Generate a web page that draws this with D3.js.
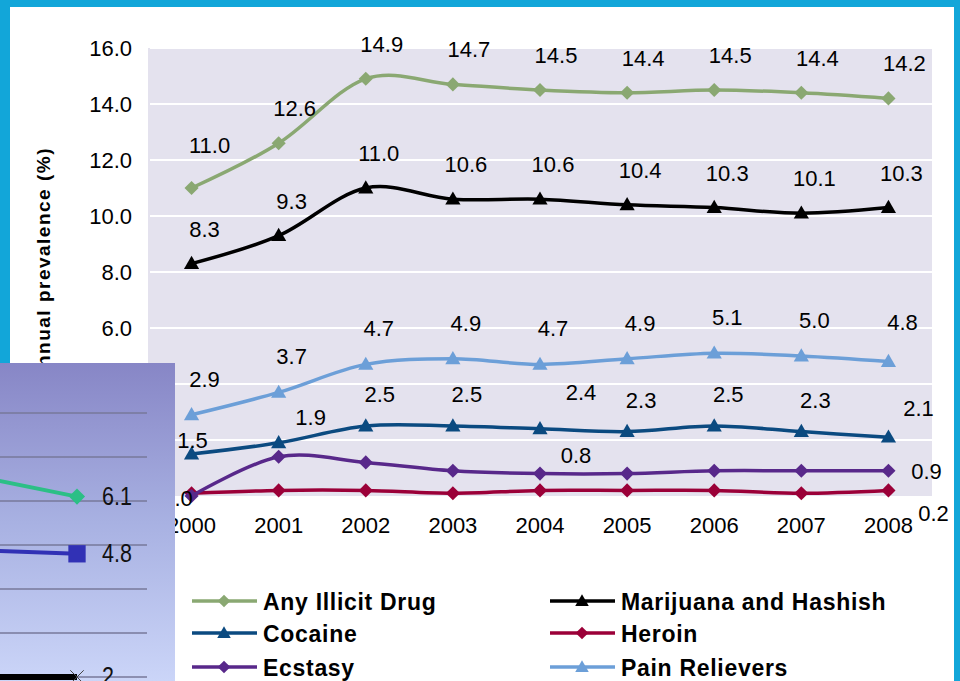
<!DOCTYPE html>
<html>
<head>
<meta charset="utf-8">
<script src="https://cdn.jsdelivr.net/npm/d3@7"></script>
<style>
  body { margin:0; background:#fff; }
  svg { display:block; font-family:"Liberation Sans", Arial, sans-serif; }
</style>
</head>
<body>
<svg id="chart" width="960" height="681"></svg>
<script>
// values
var years = ['2000','2001','2002','2003','2004','2005','2006','2007','2008'];
var anyIllicit    = [11.0, 12.6, 14.9, 14.7, 14.5, 14.4, 14.5, 14.4, 14.2];
var marijuana     = [8.3, 9.3, 11.0, 10.6, 10.6, 10.4, 10.3, 10.1, 10.3];
var painRelievers = [2.9, 3.7, 4.7, 4.9, 4.7, 4.9, 5.1, 5.0, 4.8];
var cocaine       = [1.5, 1.9, 2.5, 2.5, 2.4, 2.3, 2.5, 2.3, 2.1];
var ecstasy       = [0.0, 1.4, 1.2, 0.9, 0.8, 0.8, 0.9, 0.9, 0.9];
var heroin        = [0.1, 0.2, 0.2, 0.1, 0.2, 0.2, 0.2, 0.1, 0.2];
var yTicks = [0, 2, 4, 6, 8, 10, 12, 14, 16];

// the pasted picture in the bottom left corner (end of another chart)
var insetTicks = [2, 3, 4, 5, 6, 7, 8];
var insetGreen = [6.65, 6.1];
var insetBlue  = [4.9, 4.8];
var insetBlack = [2.0, 2.0];

var series = [
  {name:'Any Illicit Drug',      values:anyIllicit,    color:'#8aa872', marker:'diamond',  labels:[0,1,2,3,4,5,6,7,8], dx:16, dy:-35},
  {name:'Marijuana and Hashish', values:marijuana,     color:'#000000', marker:'triangle', labels:[0,1,2,3,4,5,6,7,8], dx:13, dy:-35},
  {name:'Cocaine',               values:cocaine,       color:'#0b4a80', marker:'triangle', labels:[0,1,2,3,4,5,6,7,8], dx:14, dy:-32},
  {name:'Heroin',                values:heroin,        color:'#9b0038', marker:'diamond',  labels:[8], dx:45, dy:23},
  {name:'Ecstasy',               values:ecstasy,       color:'#58288a', marker:'diamond',  labels:[0,4,8], dx:36, dy:-19},
  {name:'Pain Relievers',        values:painRelievers, color:'#6c9fd8', marker:'triangle', labels:[0,1,2,3,4,5,6,7,8], dx:13, dy:-36}
];

// hand placed labels that sit away from the usual spot
var labelNudge = {
  'Any Illicit Drug:0': [2, -8],
  'Cocaine:0': [-13, 18],
  'Cocaine:1': [18, 6],
  'Cocaine:4': [27, -5],
  'Cocaine:8': [16, 3],
  'Ecstasy:0': [-50, 21],
  'Ecstasy:8': [2, 19],
  'Pain Relievers:8': [1, -4]
};

var svg = d3.select('#chart');

var x = d3.scalePoint().domain(years).range([148, 932]).padding(0.5);
var y = d3.scaleLinear().domain([0, 16]).range([496, 48]);

//plot background
svg.append('rect')
  .attr('x', 148).attr('y', y(16))
  .attr('width', 932 - 148).attr('height', y(0) - y(16))
  .attr('fill', '#e4e2ee');

//white gridlines
svg.append('g').selectAll('line')
  .data(yTicks.filter(function(d){ return d > 0; }))
  .enter().append('line')
  .attr('x1', 150).attr('x2', 932)
  .attr('y1', function(d){ return y(d); })
  .attr('y2', function(d){ return y(d); })
  .attr('stroke', '#fff').attr('stroke-width', 2);

//y tick labels
svg.append('g').selectAll('text')
  .data(yTicks)
  .enter().append('text')
  .attr('x', 132)
  .attr('y', function(d){ return y(d) + 8; })
  .attr('text-anchor', 'end')
  .attr('font-size', 22)
  .text(function(d){ return d.toFixed(1); });

//year labels
svg.append('g').selectAll('text')
  .data(years)
  .enter().append('text')
  .attr('x', function(d){ return x(d); })
  .attr('y', 533)
  .attr('text-anchor', 'middle')
  .attr('font-size', 22)
  .text(function(d){ return d; });

//axis title (its first letter ends up under the pasted picture)
svg.append('text')
  .attr('transform', 'translate(50,147) rotate(-90)')
  .attr('text-anchor', 'end')
  .attr('font-size', 19)
  .attr('font-weight', 'bold')
  .attr('letter-spacing', 1.5)
  .text('Annual prevalence (%)');

function markerPath(kind, big) {
  if (kind == 'triangle') return d3.symbol().type(d3.symbolTriangle).size(big ? 100 : 80)();
  return d3.symbol().type(d3.symbolSquare).size(big ? 100 : 80)();
}

var line = d3.line()
  .x(function(d, i){ return x(years[i]); })
  .y(function(d){ return y(d); })
  .curve(d3.curveCardinal.tension(0));

series.forEach(function(s) {
  var g = svg.append('g').attr('class', 'series');

  g.append('path')
    .attr('d', line(s.values))
    .attr('fill', 'none')
    .attr('stroke', s.color)
    .attr('stroke-width', 3.5);

  g.selectAll('path.mk')
    .data(s.values)
    .enter().append('path')
    .attr('class', 'mk')
    .attr('d', markerPath(s.marker, true))
    .attr('transform', function(d, i){
      var t = 'translate(' + x(years[i]) + ',' + (y(d) + (s.marker == 'triangle' ? 1 : 0)) + ')';
      return s.marker == 'diamond' ? t + ' rotate(45)' : t;
    })
    .attr('fill', s.color);

  //data labels
  g.selectAll('text')
    .data(s.labels)
    .enter().append('text')
    .attr('x', function(i){
      var n = labelNudge[s.name + ':' + i] || [0, 0];
      return x(years[i]) + s.dx + n[0];
    })
    .attr('y', function(i){
      var n = labelNudge[s.name + ':' + i] || [0, 0];
      return y(s.values[i]) + s.dy + n[1] + 8;
    })
    .attr('text-anchor', 'middle')
    .attr('font-size', 22)
    .text(function(i){ return s.values[i].toFixed(1); });
});

//legend, two columns
var legend = svg.append('g');
series.forEach(function(s, k) {
  var lx = k % 2 == 0 ? 192 : 550;
  var ly = [601, 633, 667][Math.floor(k / 2)];
  var item = legend.append('g').attr('transform', 'translate(' + lx + ',' + ly + ')');
  item.append('line')
    .attr('x1', 0).attr('x2', 65)
    .attr('stroke', s.color).attr('stroke-width', 3.5);
  item.append('path')
    .attr('d', markerPath(s.marker, false))
    .attr('transform', 'translate(32,' + (s.marker == 'triangle' ? 1 : 0) + ')' + (s.marker == 'diamond' ? ' rotate(45)' : ''))
    .attr('fill', s.color);
  item.append('text')
    .attr('x', 71).attr('y', 8.5)
    .attr('font-size', 23)
    .attr('font-weight', 'bold')
    .attr('letter-spacing', 0.7)
    .text(s.name);
});

// inset picture that overlaps the chart
var ix = d3.scaleLinear().domain([0, 1]).range([-43, 77]);
var iy = d3.scaleLinear().domain([2, 8]).range([677, 413]);

var defs = svg.append('defs');
var grad = defs.append('linearGradient').attr('id', 'insetbg')
  .attr('x1', 0).attr('y1', 0).attr('x2', 0).attr('y2', 1);
grad.append('stop').attr('offset', '0%').attr('stop-color', '#8786c6');
grad.append('stop').attr('offset', '50%').attr('stop-color', '#a8b1e2');
grad.append('stop').attr('offset', '100%').attr('stop-color', '#cbd5f8');

var inset = svg.append('g');
inset.append('rect')
  .attr('x', 0).attr('y', 363).attr('width', 175).attr('height', 681 - 363)
  .attr('fill', 'url(#insetbg)');

inset.selectAll('line.grid')
  .data(insetTicks)
  .enter().append('line')
  .attr('class', 'grid')
  .attr('x1', 0).attr('x2', 147)
  .attr('y1', function(d){ return iy(d); })
  .attr('y2', function(d){ return iy(d); })
  .attr('stroke', '#77789a').attr('stroke-width', 1.5);

var iline = d3.line()
  .x(function(d, i){ return ix(i); })
  .y(function(d){ return iy(d); });

[[insetGreen, '#2cbf86', 4], [insetBlue, '#3131b5', 4], [insetBlack, '#000', 6]].forEach(function(p) {
  inset.append('path')
    .attr('d', iline(p[0]))
    .attr('fill', 'none')
    .attr('stroke', p[1])
    .attr('stroke-width', p[2]);
});

inset.append('path')
  .attr('d', d3.symbol().type(d3.symbolSquare).size(130)())
  .attr('transform', 'translate(' + ix(1) + ',' + iy(insetGreen[1]) + ') rotate(45)')
  .attr('fill', '#2cbf86');
inset.append('path')
  .attr('d', d3.symbol().type(d3.symbolSquare).size(300)())
  .attr('transform', 'translate(' + ix(1) + ',' + iy(insetBlue[1]) + ')')
  .attr('fill', '#3131b5');
inset.append('path')
  .attr('d', d3.symbol().type(d3.symbolX).size(120)())
  .attr('transform', 'translate(' + ix(1) + ',' + iy(insetBlack[1]) + ')')
  .attr('stroke', '#444').attr('stroke-width', 1).attr('fill', '#444');

// narrow looking digits, like the pasted screenshot
inset.selectAll('text')
  .data([insetGreen[1].toFixed(1), insetBlue[1].toFixed(1), '2'])
  .enter().append('text')
  .attr('transform', function(d, i){
    var v = [insetGreen[1], insetBlue[1], insetBlack[1]][i];
    return 'translate(102,' + (iy(v) + 8) + ') scale(0.86,1)';
  })
  .attr('font-size', 25)
  .attr('fill', '#111')
  .text(function(d){ return d; });

//slide frame in blue
svg.append('rect').attr('x', 0).attr('y', 0).attr('width', 960).attr('height', 7).attr('fill', '#12a6d9');
svg.append('rect').attr('x', 0).attr('y', 0).attr('width', 10).attr('height', 363).attr('fill', '#12a6d9');
svg.append('rect').attr('x', 954).attr('y', 0).attr('width', 6).attr('height', 681).attr('fill', '#12a6d9');
</script>
</body>
</html>
